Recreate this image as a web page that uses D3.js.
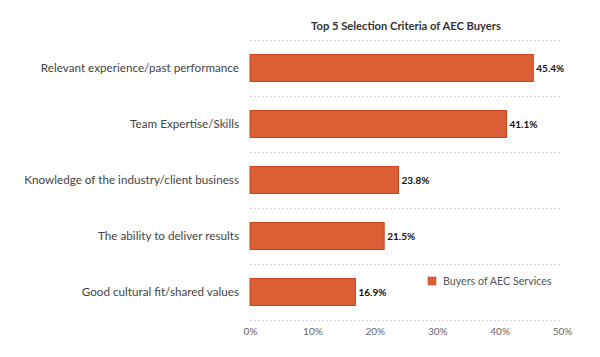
<!DOCTYPE html>
<html><head><meta charset="utf-8">
<script src="https://cdn.jsdelivr.net/npm/d3@7"></script>
<style>body{margin:0;background:#fff;font-family:Lato,"Open Sans",sans-serif;}</style>
</head><body><svg id="c" width="600" height="357"></svg>
<script>
const categories = ["Relevant experience/past performance","Team Expertise/Skills","Knowledge of the industry/client business","The ability to deliver results","Good cultural fit/shared values"];
const values = [45.4, 41.1, 23.8, 21.5, 16.9];
const ticks = [0, 10, 20, 30, 40, 50];
const seriesName = "Buyers of AEC Services";
const title = "Top 5 Selection Criteria of AEC Buyers";

const svg = d3.select("#c");
const x = d3.scaleLinear().domain([0, 50]).range([250, 562]);
const y = d3.scaleBand().domain(categories).range([40, 320]).paddingInner(0.52).paddingOuter(0.26);
const yb = d3.scaleBand().domain(categories).range([40, 320]);

// gridlines
const gl = [40].concat(categories.map(c => yb(c) + yb.bandwidth()));
svg.selectAll("line.g").data(gl).enter().append("line")
  .attr("x1", x(0)).attr("x2", x(50)).attr("y1", d => d + 0.5).attr("y2", d => d + 0.5)
  .attr("stroke", "#d8d8d8").attr("stroke-dasharray", "2,2").attr("stroke-width", 1);

svg.append("text").attr("x", (x(0) + x(50)) / 2).attr("y", 30).attr("text-anchor", "middle")
  .attr("font-size", 11.2).attr("font-weight", "bold").attr("fill", "#333").text(title);

svg.selectAll("rect.b").data(values).enter().append("rect")
  .attr("x", x(0)).attr("y", (d, i) => y(categories[i]))
  .attr("width", d => x(d) - x(0)).attr("height", y.bandwidth())
  .attr("fill", "#DB5F36").attr("stroke", "#C9401B").attr("stroke-width", 1);

svg.selectAll("text.v").data(values).enter().append("text")
  .attr("x", d => x(d) + 3).attr("y", (d, i) => yb(categories[i]) + yb.bandwidth() / 2 + 4)
  .attr("font-size", 10).attr("font-weight", "bold").attr("fill", "#111").text(d => d.toFixed(1) + "%");

svg.selectAll("text.l").data(categories).enter().append("text")
  .attr("x", 239).attr("y", d => yb(d) + yb.bandwidth() / 2 + 4).attr("text-anchor", "end")
  .attr("font-size", 11.7).attr("fill", "#444").text(d => d);

const ax = svg.append("g").attr("transform", "translate(0,320)")
  .call(d3.axisBottom(x).tickValues(ticks).tickFormat(d => d + "%").tickSize(0).tickPadding(8));
ax.select(".domain").remove();
ax.selectAll("text").attr("font-size", 10).attr("fill", "#666").attr("font-family", "Lato,'Open Sans',sans-serif");

svg.append("rect").attr("x", 428).attr("y", 277).attr("width", 8).attr("height", 8)
  .attr("fill", "#DB5F36").attr("stroke", "#C9401B").attr("stroke-width", 0.5);
svg.append("text").attr("x", 443).attr("y", 285).attr("font-size", 10.7).attr("fill", "#555").text(seriesName);
</script></body></html>
